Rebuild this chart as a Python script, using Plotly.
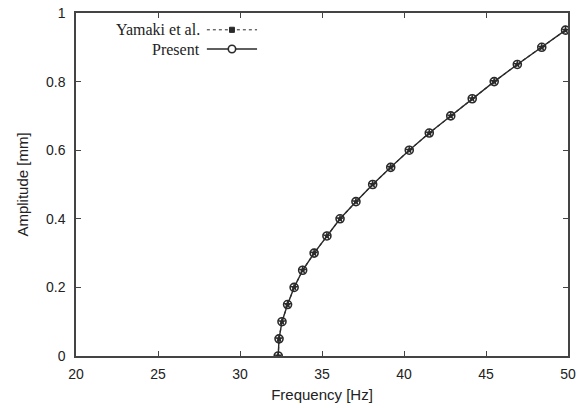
import plotly.graph_objects as go

amplitude = [0.0, 0.05, 0.10, 0.15, 0.20, 0.25, 0.30, 0.35, 0.40, 0.45,
             0.50, 0.55, 0.60, 0.65, 0.70, 0.75, 0.80, 0.85, 0.90, 0.95]
freq_present = [32.33, 32.38, 32.56, 32.90, 33.30, 33.82, 34.52, 35.30, 36.10, 37.07,
                38.09, 39.19, 40.32, 41.54, 42.85, 44.16, 45.50, 46.91, 48.40, 49.85]
freq_yamaki = [32.33, 32.38, 32.56, 32.90, 33.30, 33.82, 34.52, 35.30, 36.10, 37.07,
               38.09, 39.19, 40.32, 41.54, 42.85, 44.16, 45.50, 46.91, 48.40, 49.85]
x_ticks = [20, 25, 30, 35, 40, 45, 50]
y_ticks = [0, 0.2, 0.4, 0.6, 0.8, 1]
y_tick_text = ["0", "0.2", "0.4", "0.6", "0.8", "1"]
series_names = ["Yamaki et al.", "Present"]

INK = "#2a2a2a"
fig = go.Figure()
fig.add_trace(go.Scatter(
    x=freq_yamaki, y=amplitude, name=series_names[0], mode="lines+markers",
    line=dict(color=INK, width=1.2, dash="dot"),
    marker=dict(symbol="star", size=7, color=INK), showlegend=False))
fig.add_trace(go.Scatter(
    x=freq_present, y=amplitude, name=series_names[1], mode="lines+markers",
    line=dict(color=INK, width=1.4),
    marker=dict(symbol="circle-open", size=8, color=INK, line=dict(width=1.6)),
    showlegend=False))

axis_common = dict(showgrid=False, zeroline=False, showline=True, linecolor="#444",
                   linewidth=1.5, mirror="ticks", ticks="inside", ticklen=5,
                   tickcolor="#444", tickwidth=1, automargin=False,
                   tickfont=dict(family="Liberation Sans", size=14, color="#222"))
fig.update_xaxes(range=[20, 50], tickvals=x_ticks, ticktext=[str(v) for v in x_ticks],
                 title=dict(text="Frequency [Hz]", standoff=9,
                            font=dict(family="Liberation Sans", size=15, color="#222")),
                 ticklabelstandoff=4, **axis_common)
fig.update_yaxes(range=[0, 1], tickvals=y_ticks, ticktext=y_tick_text,
                 title=dict(text="Amplitude [mm]", standoff=14,
                            font=dict(family="Liberation Sans", size=15, color="#222")),
                 ticklabelstandoff=6, **axis_common)

# gnuplot-style legend: text on the left, sample on the right
leg = [(series_names[0], 0.951, "dot", "star"), (series_names[1], 0.895, "solid", "circle")]
shapes = []
annotations = []
for name, yp, dash, sym in leg:
    annotations.append(dict(xref="paper", yref="paper", x=0.256, y=yp, text=name,
                            showarrow=False, xanchor="right", yanchor="middle",
                            font=dict(family="Liberation Serif", size=16, color="#222")))
    shapes.append(dict(type="line", xref="paper", yref="paper", x0=0.266, x1=0.368,
                       y0=yp, y1=yp, line=dict(color=INK, width=1.0 if dash == "dot" else 1.4,
                                                 dash=dash)))
    if sym == "circle":
        shapes.append(dict(type="circle", xref="paper", yref="paper",
                           x0=0.317 - 0.0075, x1=0.317 + 0.0075,
                           y0=yp - 0.0108, y1=yp + 0.0108,
                           line=dict(color=INK, width=1.6), fillcolor="white"))
    else:
        shapes.append(dict(type="rect", xref="paper", yref="paper",
                           x0=0.317 - 0.005, x1=0.317 + 0.005,
                           y0=yp - 0.0075, y1=yp + 0.0075,
                           line=dict(color=INK, width=1), fillcolor=INK))

fig.update_layout(width=585, height=408, margin=dict(l=76, r=17, t=13, b=52),
                  paper_bgcolor="white", plot_bgcolor="white",
                  shapes=shapes, annotations=annotations)
fig.write_html("out.html")
